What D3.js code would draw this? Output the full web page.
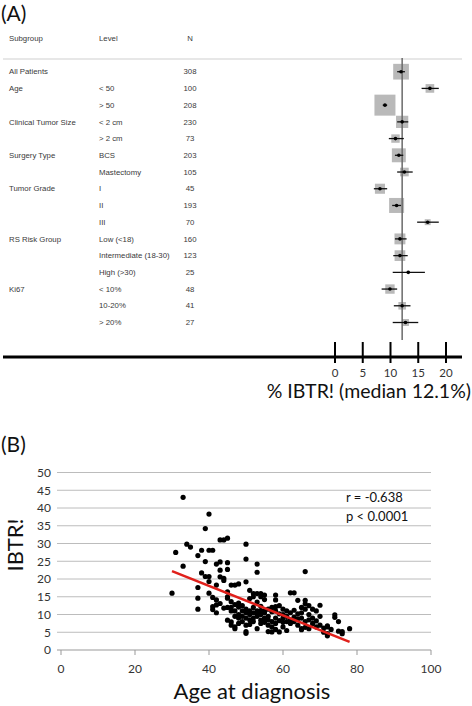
<!DOCTYPE html>
<html>
<head>
<meta charset="utf-8">
<script src="https://cdn.jsdelivr.net/npm/d3@7"></script>
<style>
  html, body { margin: 0; padding: 0; background: #fff; }
  svg { display: block; }
</style>
</head>
<body>
<div id="chart"></div>
<script>
// ---------- Panel A data (forest plot) ----------
const subgroups = ["All Patients","Age","","Clinical Tumor Size","","Surgery Type","","Tumor Grade","","","RS Risk Group","","","Ki67","",""];
const levels = ["","< 50","> 50","< 2 cm","> 2 cm","BCS","Mastectomy","I","II","III","Low (<18)","Intermediate (18-30)","High (>30)","< 10%","10-20%","> 20%"];
const nValues = [308,100,208,230,73,203,105,45,193,70,160,123,25,48,41,27];
const estimates = [11.9,17.1,9.0,12.1,10.9,11.5,12.5,8.1,11.1,16.7,11.7,11.7,13.2,9.9,12.1,12.7];
const lowerCI  = [11.2,15.6,8.6,11.2,9.7,10.8,11.2,7.0,10.3,14.8,10.8,10.5,10.4,8.4,10.6,10.4];
const upperCI  = [12.6,18.7,9.4,13.2,12.4,12.3,14.0,9.4,11.9,18.7,12.9,13.1,16.2,11.2,13.6,15.0];
const weights  = [56,17,100,34,16,44,17,23,51,8,27,26,2,20,13,11];
const forestTicks = [0,5,10,15,20];
const medianIBTR = 12.1;
const headers = ["Subgroup","Level","N"];

// ---------- Panel B data (scatter) ----------
const ages = [
30,31,33,33,34,35,37,37,37,37,38,38,39,39,39,40,40,40,40,40,41,41,41,41,
42,42,42,42,42,43,43,43,43,43,44,44,44,44,45,45,45,45,45,45,45,45,46,46,46,46,46,46,
47,47,47,47,47,47,48,48,48,48,48,48,49,49,49,49,50,50,50,50,50,50,50,50,50,
51,51,51,51,51,51,52,52,52,52,52,52,53,53,53,53,53,53,53,53,54,54,54,54,54,54,54,
55,55,55,55,55,55,55,56,56,56,56,56,57,57,57,57,57,58,58,58,58,58,58,58,59,59,59,59,
60,60,60,60,60,61,61,61,61,62,62,62,62,63,63,63,63,64,64,64,64,65,65,65,65,65,
66,66,66,66,66,66,67,67,67,67,68,68,68,69,69,69,70,70,70,71,71,72,72,72,72,73,74,74,75,75,76,76,78
];
const ibtr = [
16,27.5,43,23.6,29.8,29,26.6,17.6,14.6,11.5,21.7,28.1,34.2,24.9,20.7,38.3,28.1,20.7,16,19.3,28.1,14.8,11.4,12.2,
18.3,24.2,12.7,14.1,10.5,31,24.8,22.5,13.1,20.6,31,20.2,19.6,11.8,31.5,24.6,22.7,15,16.4,14.6,8.4,12,18.3,13.6,12,7.9,11,7,
18.3,6.5,12.8,11,9.5,6,18.6,13.2,12.1,10,9,7.5,12.5,11,9.5,8,25.6,29.8,19.2,11.5,10.5,9,5.2,4.7,7,
16.8,14.5,11,10,8.5,7.2,15.9,15,12,10.5,9,8,15.9,24.2,21.9,6,13.5,11,10.2,9.5,15.9,15,12.3,11,10,8.4,7.5,
15.5,14.2,11,10.5,9,7.8,8.5,11.5,8.5,7,5.2,9.5,10.8,8,6.5,5.1,12,15.5,14.1,12.2,11,9,7.5,5.8,10.2,8.3,5.1,12.5,
11.5,10,9,7.8,6.5,11,9.5,8,5.5,16.1,10.5,8.5,7.5,16.1,11.2,9.3,8,14,10.2,8.8,7,12,10.5,9,6,5.7,
22.1,14,13,11.5,8,6.4,12.5,10,8.5,6,11.5,9,7.5,11,8.2,6.5,12.6,9.5,7,6.2,5,6.5,4.6,4,6.8,5.8,9.2,9.9,8,5.3,5.2,4.6,6
];
const trendAges = [30, 78];
const trendValues = [22.2, 2.3];
const scatterXTicks = [0,20,40,60,80,100];
const scatterYTicks = [0,5,10,15,20,25,30,35,40,45,50];
const statLines = ["r = -0.638","p < 0.0001"];

// ---------- Drawing ----------
const W = 472, H = 706;
const svg = d3.select("#chart").append("svg").attr("width", W).attr("height", H);
svg.append("rect").attr("width", W).attr("height", H).attr("fill", "#fff");

const calibri = "Lato, 'Open Sans', sans-serif";
const arial = "'Liberation Sans', Arial, sans-serif";
const tableColor = "#3a3a3a";

// Panel A
svg.append("text").attr("x", 1).attr("y", 21).attr("font-family", calibri)
  .attr("font-size", 21).attr("fill", "#111").text("(A)");

const colX = [9, 99, 190];
headers.forEach((h, i) => {
  svg.append("text").attr("x", colX[i]).attr("y", 41)
    .attr("text-anchor", i === 2 ? "middle" : "start")
    .attr("font-family", arial).attr("font-size", 7.8).attr("fill", tableColor).text(h);
});
svg.append("line").attr("x1", 3).attr("x2", 462).attr("y1", 59).attr("y2", 59)
  .attr("stroke", "#cfcfcf").attr("stroke-width", 1);

const rowY = d3.scalePoint().domain(d3.range(levels.length)).range([71.7, 322.5]);
const fx = d3.scaleLinear().domain([0, 20]).range([335, 446]);
const boxSize = d3.scaleSqrt().domain([0, 100]).range([0, 21]);

const rows = svg.append("g");
levels.forEach((lv, i) => {
  const y = rowY(i) + 2.7;
  rows.append("text").attr("x", colX[0]).attr("y", y).attr("font-family", arial)
    .attr("font-size", 7.8).attr("fill", tableColor).text(subgroups[i]);
  rows.append("text").attr("x", colX[1]).attr("y", y).attr("font-family", arial)
    .attr("font-size", 7.8).attr("fill", tableColor).text(lv);
  rows.append("text").attr("x", colX[2]).attr("y", y).attr("text-anchor", "middle")
    .attr("font-family", arial).attr("font-size", 7.8).attr("fill", tableColor).text(nValues[i]);
});

// boxes (behind line)
const fg = svg.append("g");
fg.selectAll("rect.box").data(levels.map((_, i) => i)).join("rect")
  .attr("class", "box")
  .attr("x", i => fx(estimates[i]) - boxSize(weights[i]) / 2)
  .attr("y", i => rowY(i) - boxSize(weights[i]) / 2)
  .attr("width", i => boxSize(weights[i]))
  .attr("height", i => boxSize(weights[i]))
  .attr("fill", "#b9b9b9");

// median line
svg.append("line").attr("x1", fx(medianIBTR)).attr("x2", fx(medianIBTR))
  .attr("y1", 58).attr("y2", 340).attr("stroke", "#6a6a6a").attr("stroke-width", 1.5);

// CI lines and points
const cg = svg.append("g");
cg.selectAll("line.ci").data(levels.map((_, i) => i)).join("line")
  .attr("x1", i => fx(lowerCI[i])).attr("x2", i => fx(upperCI[i]))
  .attr("y1", i => rowY(i)).attr("y2", i => rowY(i))
  .attr("stroke", "#111").attr("stroke-width", 1.3);
cg.selectAll("circle.pt").data(levels.map((_, i) => i)).join("circle")
  .attr("cx", i => fx(estimates[i])).attr("cy", i => rowY(i)).attr("r", 1.8)
  .attr("fill", "#000");

// Forest axis
svg.append("line").attr("x1", 3).attr("x2", 462).attr("y1", 357).attr("y2", 357)
  .attr("stroke", "#000").attr("stroke-width", 3);
const faxis = svg.append("g");
forestTicks.forEach(t => {
  faxis.append("line").attr("x1", fx(t)).attr("x2", fx(t)).attr("y1", 342).attr("y2", 363)
    .attr("stroke", "#000").attr("stroke-width", 2);
  faxis.append("text").attr("x", fx(t)).attr("y", 377).attr("text-anchor", "middle")
    .attr("font-family", calibri).attr("font-size", 11.5).attr("fill", "#333").text(t);
});
svg.append("text").attr("x", 471).attr("y", 398).attr("text-anchor", "end")
  .attr("font-family", calibri).attr("font-size", 19.5).attr("fill", "#111")
  .text("% IBTR! (median 12.1%)");

// Panel B
svg.append("text").attr("x", 1).attr("y", 452).attr("font-family", calibri)
  .attr("font-size", 21).attr("fill", "#111").text("(B)");

const sx = d3.scaleLinear().domain([0, 100]).range([61, 431]);
const sy = d3.scaleLinear().domain([0, 50]).range([650, 472.5]);

const grid = svg.append("g");
scatterYTicks.forEach(t => {
  grid.append("line").attr("x1", 57).attr("x2", sx(100))
    .attr("y1", sy(t)).attr("y2", sy(t))
    .attr("stroke", t === 0 ? "#999" : "#bcbcbc").attr("stroke-width", 1);
  grid.append("text").attr("x", 51).attr("y", sy(t) + 4.3).attr("text-anchor", "end")
    .attr("font-family", calibri).attr("font-size", 12).attr("fill", "#333").text(t);
});
scatterXTicks.forEach(t => {
  grid.append("line").attr("x1", sx(t)).attr("x2", sx(t)).attr("y1", 650).attr("y2", 655)
    .attr("stroke", "#999").attr("stroke-width", 1);
  grid.append("text").attr("x", sx(t)).attr("y", 672.5).attr("text-anchor", "middle")
    .attr("font-family", calibri).attr("font-size", 12).attr("fill", "#333").text(t);
});

svg.append("g").selectAll("circle").data(ages.map((a, i) => [a, ibtr[i]])).join("circle")
  .attr("cx", d => sx(d[0])).attr("cy", d => sy(d[1])).attr("r", 2.6).attr("fill", "#000");

svg.append("line").attr("x1", sx(trendAges[0])).attr("y1", sy(trendValues[0]))
  .attr("x2", sx(trendAges[1])).attr("y2", sy(trendValues[1]))
  .attr("stroke", "#e0201b").attr("stroke-width", 2.5);

statLines.forEach((s, i) => {
  svg.append("text").attr("x", 346).attr("y", 502 + i * 18.5)
    .attr("font-family", calibri).attr("font-size", 13).attr("fill", "#111").text(s);
});

svg.append("text").attr("transform", "translate(22.5,545) rotate(-90)")
  .attr("text-anchor", "middle").attr("font-family", calibri).attr("font-size", 22)
  .attr("fill", "#111").text("IBTR!");
svg.append("text").attr("x", 252).attr("y", 699).attr("text-anchor", "middle")
  .attr("font-family", calibri).attr("font-size", 22).attr("fill", "#111")
  .text("Age at diagnosis");
</script>
</body>
</html>
